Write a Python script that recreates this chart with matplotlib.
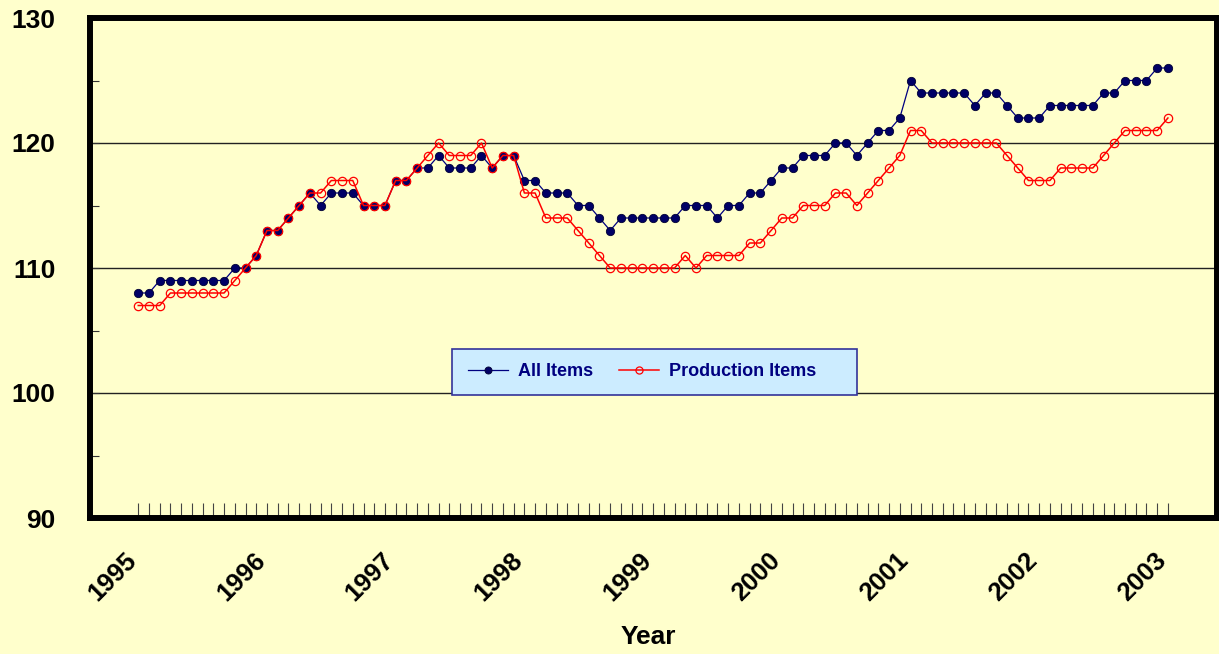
import numpy as np
import pandas as pd
import matplotlib
matplotlib.use('Agg')
import matplotlib.pyplot as plt
from matplotlib.patches import Rectangle
from matplotlib.transforms import ScaledTranslation

plt.rcParams['font.family'] = ['Liberation Sans', 'DejaVu Sans']
plt.rcParams['font.weight'] = 'bold'

# monthly index values, Jan 1995 - Jan 2003
all_items = [108, 108, 109, 109, 109, 109, 109, 109, 109, 110, 110, 111,
             113, 113, 114, 115, 116, 115, 116, 116, 116, 115, 115, 115,
             117, 117, 118, 118, 119, 118, 118, 118, 119, 118, 119, 119,
             117, 117, 116, 116, 116, 115, 115, 114, 113, 114, 114, 114,
             114, 114, 114, 115, 115, 115, 114, 115, 115, 116, 116, 117,
             118, 118, 119, 119, 119, 120, 120, 119, 120, 121, 121, 122,
             125, 124, 124, 124, 124, 124, 123, 124, 124, 123, 122, 122,
             122, 123, 123, 123, 123, 123, 124, 124, 125, 125, 125, 126,
             126]
production_items = [107, 107, 107, 108, 108, 108, 108, 108, 108, 109, 110, 111,
                    113, 113, 114, 115, 116, 116, 117, 117, 117, 115, 115, 115,
                    117, 117, 118, 119, 120, 119, 119, 119, 120, 118, 119, 119,
                    116, 116, 114, 114, 114, 113, 112, 111, 110, 110, 110, 110,
                    110, 110, 110, 111, 110, 111, 111, 111, 111, 112, 112, 113,
                    114, 114, 115, 115, 115, 116, 116, 115, 116, 117, 118, 119,
                    121, 121, 120, 120, 120, 120, 120, 120, 120, 119, 118, 117,
                    117, 117, 118, 118, 118, 118, 119, 120, 121, 121, 121, 121,
                    122]
years = ['1995', '1996', '1997', '1998', '1999', '2000', '2001', '2002', '2003']

df = pd.DataFrame({'All Items': all_items, 'Production Items': production_items})
x = np.arange(len(df))
tick_labels = ['' for _ in x]
for i, y in enumerate(years):
    tick_labels[i * 12] = y

bg = '#FFFFCC'
fig = plt.figure(figsize=(12.19, 6.54), dpi=100, facecolor=bg)
ax = fig.add_axes([90 / 1219, 136 / 654, 1126.5 / 1219, 500 / 654], facecolor=bg)

ax.plot(x, df['All Items'], color='#000080', lw=0.9, marker='o', ms=6.0,
        mfc='#000066', mec='#000033', mew=0.6, label='All Items')
ax.plot(x, df['Production Items'], color='#FF0000', lw=1.1, marker='o', ms=6.0,
        mfc='none', mec='#FF0000', mew=0.9, label='Production Items')

ax.set_ylim(90, 130)
ax.set_xlim(-4.5, 100.53)
ax.set_yticks([90, 100, 110, 120, 130])
ax.set_yticks([95, 105, 115, 125], minor=True)
ax.yaxis.grid(True, color='#222222', lw=1.0)
ax.set_axisbelow(True)
ax.tick_params(axis='y', which='both', direction='in', length=6.5, width=0.8,
               color='#333333', pad=25, labelsize=19)

ax.set_xticks(x)
ax.set_xticklabels(tick_labels, rotation=45, ha='right', va='top',
                   rotation_mode='anchor', fontsize=18.5)
ax.tick_params(axis='x', direction='in', length=10.5, width=0.8,
               color='#444444', pad=22)
shift = ScaledTranslation(-0.14, 0, fig.dpi_scale_trans)
for lab in ax.get_xticklabels():
    lab.set_transform(lab.get_transform() + shift)

for s in ax.spines.values():
    s.set_linewidth(4.3)
    s.set_color('black')

ax.set_xlabel('Year', fontsize=19, fontweight='bold', va='center')
ax.xaxis.set_label_coords(0.4956, -0.238)

# legend box
box = Rectangle((452 / 1219, 1 - 395 / 654), 405 / 1219, 46 / 654,
                transform=fig.transFigure, facecolor='#CCECFF',
                edgecolor='#333399', lw=1.2, zorder=4, clip_on=False)
ax.add_patch(box)
leg = ax.legend(loc='center left', bbox_to_anchor=(468 / 1219, 1 - 372 / 654),
                bbox_transform=fig.transFigure, ncol=2, fontsize=13,
                handlelength=2.2, handletextpad=0.55, columnspacing=1.45,
                borderpad=0, borderaxespad=0, frameon=False, markerscale=0.85)
for t in leg.get_texts():
    t.set_color('#000080')

plt.savefig('out.png', dpi=100, facecolor=bg)
